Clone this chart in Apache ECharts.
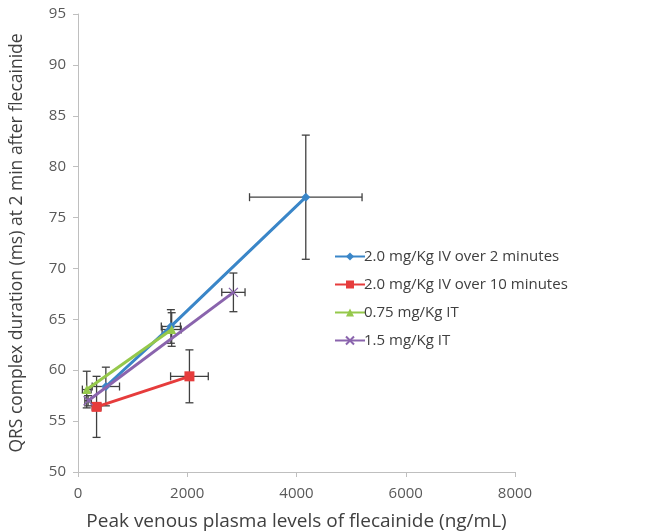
<!DOCTYPE html>
<html>
<head>
<meta charset="utf-8">
<script src="https://cdn.jsdelivr.net/npm/echarts@6/dist/echarts.min.js"></script>
<style>
  html, body { margin: 0; padding: 0; background: #fff; }
  #chart { width: 662px; height: 532px; }
</style>
</head>
<body>
<div id="chart"></div>
<script>
// series names
var seriesNames = [
  '2.0 mg/Kg IV over 2 minutes',
  '2.0 mg/Kg IV over 10 minutes',
  '0.75 mg/Kg IT',
  '1.5 mg/Kg IT'
];

// points: [plasma level, QRS duration]
var ivTwoMin = [[510, 58.4], [1700, 64.3], [4170, 77.0]];
var ivTenMin = [[340, 56.4], [2040, 59.4]];
var itLow = [[160, 58.1], [1715, 64.0]];
var itHigh = [[185, 57.0], [2845, 67.65]];

// error bars: [x error, y error] per point
var ivTwoMinErr = [[250, 1.9], [175, 1.65], [1030, 6.1]];
var ivTenMinErr = [[80, 3.0], [345, 2.6]];
var itLowErr = [[80, 1.8], [175, 1.65]];
var itHighErr = [[60, 0.5], [213, 1.9]];

var xTicks = [0, 2000, 4000, 6000, 8000];
var yTicks = [50, 55, 60, 65, 70, 75, 80, 85, 90, 95];

var colors = ['#3a86c8', '#e63c3c', '#95c84b', '#8a64ad'];

// join points and errors for the custom series
var errData = [];
[[ivTwoMin, ivTwoMinErr], [ivTenMin, ivTenMinErr], [itLow, itLowErr], [itHigh, itHighErr]].forEach(function (p) {
  p[0].forEach(function (pt, i) {
    errData.push([pt[0], pt[1], p[1][i][0], p[1][i][1]]);
  });
});

function renderErr(params, api) {
  var x = api.value(0), y = api.value(1), ex = api.value(2), ey = api.value(3);
  var c = api.coord([x, y]);
  var l = api.coord([x - ex, y]);
  var r = api.coord([x + ex, y]);
  var t = api.coord([x, y + ey]);
  var b = api.coord([x, y - ey]);
  var cap = 4;
  var style = { stroke: '#404040', lineWidth: 1.3 };
  function seg(x1, y1, x2, y2) {
    return { type: 'line', shape: { x1: x1, y1: y1, x2: x2, y2: y2 }, style: style };
  }
  return {
    type: 'group',
    children: [
      seg(l[0], c[1], r[0], c[1]),
      seg(l[0], c[1] - cap, l[0], c[1] + cap),
      seg(r[0], c[1] - cap, r[0], c[1] + cap),
      seg(c[0], t[1], c[0], b[1]),
      seg(c[0] - cap, t[1], c[0] + cap, t[1]),
      seg(c[0] - cap, b[1], c[0] + cap, b[1])
    ]
  };
}

var chart = echarts.init(document.getElementById('chart'));

function lineSeries(idx, data, symbol, size) {
  return {
    name: seriesNames[idx],
    type: 'line',
    data: data,
    symbol: symbol,
    symbolSize: size,
    showAllSymbol: true,
    z: 3 + idx,
    lineStyle: { color: colors[idx], width: 3 },
    itemStyle: { color: colors[idx], borderColor: colors[idx], borderWidth: symbol.indexOf('path') === 0 ? 1.3 : 0 },
    emphasis: { disabled: true }
  };
}

chart.setOption({
  animation: false,
  color: colors,
  textStyle: { fontFamily: '"Open Sans", "Noto Sans", sans-serif' },
  grid: { left: 78, right: 147, top: 14, bottom: 60, containLabel: false, outerBoundsMode: 'none' },
  legend: {
    orient: 'vertical',
    left: 329,
    top: 244,
    itemWidth: 30,
    itemHeight: 10,
    itemGap: 13,
    textStyle: { fontSize: 15, color: '#404040', fontFamily: '"Open Sans", sans-serif', padding: [0, 0, 0, -6] },
    data: seriesNames
  },
  xAxis: {
    type: 'value',
    min: xTicks[0],
    max: xTicks[xTicks.length - 1],
    interval: 2000,
    name: 'Peak venous plasma levels of flecainide (ng/mL)',
    nameLocation: 'middle',
    nameGap: 40,
    nameTextStyle: { fontSize: 19, color: '#404040' },
    axisLine: { lineStyle: { color: '#bfbfbf', width: 1 } },
    axisTick: { show: true, length: 5, lineStyle: { color: '#bfbfbf' } },
    axisLabel: { fontSize: 15, color: '#595959', margin: 14, formatter: function (v) { return String(v); } },
    splitLine: { show: false }
  },
  yAxis: {
    type: 'value',
    min: yTicks[0],
    max: yTicks[yTicks.length - 1],
    interval: 5,
    name: 'QRS complex duration (ms) at 2 min after flecainide',
    nameLocation: 'middle',
    nameGap: 52,
    nameTextStyle: { fontSize: 17.5, color: '#404040' },
    axisLine: { show: true, lineStyle: { color: '#bfbfbf', width: 1 } },
    axisTick: { show: true, length: 5, lineStyle: { color: '#bfbfbf' } },
    axisLabel: { fontSize: 15, color: '#595959', margin: 12 },
    splitLine: { show: false }
  },
  series: [
    {
      type: 'custom',
      renderItem: renderErr,
      data: errData,
      encode: { x: 0, y: 1 },
      z: 1,
      silent: true
    },
    lineSeries(0, ivTwoMin, 'diamond', 9),
    lineSeries(1, ivTenMin, 'rect', 10),
    lineSeries(2, itLow, 'triangle', 9),
    lineSeries(3, itHigh, 'path://M0,0L10,10M10,0L0,10', 9)
  ]
});
</script>
</body>
</html>
